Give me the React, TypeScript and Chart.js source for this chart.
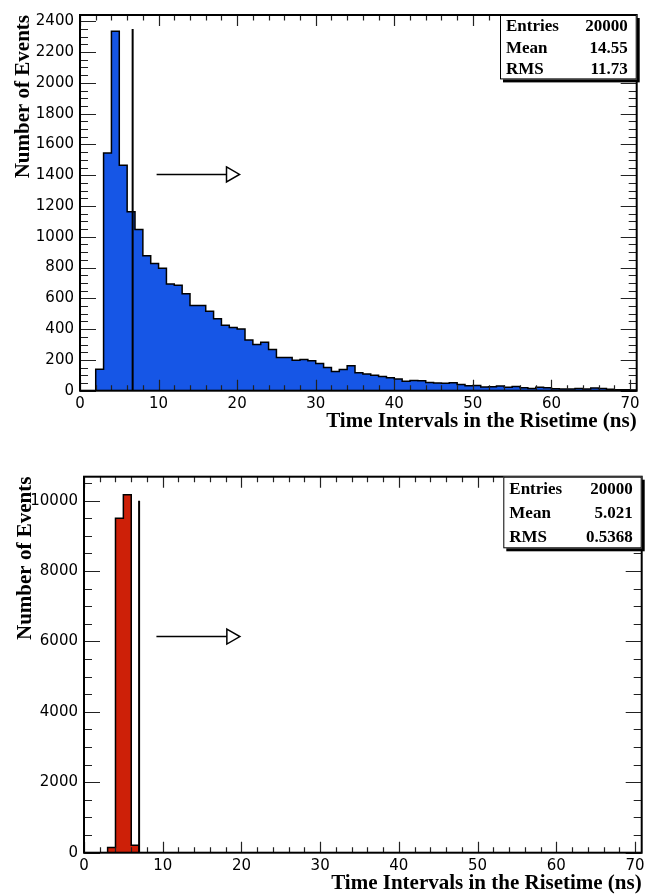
import React, { useEffect, useRef } from 'react';
import { Chart, registerables } from 'chart.js';

Chart.register(...registerables);

// ---------- data ----------
const binWidth = 1; // ns
const topCounts = [
  0, 0, 140, 1545, 2336, 1465, 1162, 1047, 877, 827,
  795, 694, 685, 630, 554, 554, 517, 468, 425, 410,
  401, 330, 300, 315, 268, 216, 216, 198, 203, 194,
  177, 151, 125, 138, 162, 117, 108, 101, 93, 84,
  76, 61, 67, 65, 54, 50, 48, 52, 41, 32,
  34, 24, 26, 30, 22, 28, 19, 15, 22, 19,
  13, 11, 11, 15, 11, 17, 15, 9, 6, 6,
  4,
];
const bottomBinStarts = [3, 4, 5, 6];
const bottomCounts = [150, 9500, 10170, 210];

const xTickLabels = [0, 10, 20, 30, 40, 50, 60, 70];
const topYTickLabels = [0, 200, 400, 600, 800, 1000, 1200, 1400, 1600, 1800, 2000, 2200, 2400];
const bottomYTickLabels = [0, 2000, 4000, 6000, 8000, 10000];

const topStats = [['Entries', '20000'], ['Mean', '14.55'], ['RMS', '11.73']];
const bottomStats = [['Entries', '20000'], ['Mean', '5.021'], ['RMS', '0.5368']];

const topCut = { x: 6.7, y: 2350 };
const bottomCut = { x: 7.0, y: 10000 };
const topArrow = { x0: 9.75, x1: 20.3, y: 1405 };
const bottomArrow = { x0: 9.2, x1: 19.8, y: 6140 };

const xTitle = 'Time Intervals in the Risetime (ns)';
const yTitle = 'Number of Events';

// ---------- helpers ----------
function stepPointsFull(counts: number[]) {
  const pts = counts.map((c, i) => ({ x: i * binWidth, y: c }));
  pts.push({ x: counts.length * binWidth, y: 0 });
  return pts;
}
function stepPointsSparse(starts: number[], counts: number[]) {
  const pts: { x: number; y: number }[] = [{ x: 0, y: 0 }];
  starts.forEach((s, i) => pts.push({ x: s, y: counts[i] }));
  pts.push({ x: starts[starts.length - 1] + binWidth, y: 0 });
  return pts;
}

type Decor = {
  xMajor: number; xMinor: number; yMajor: number; yMinor: number;
  stats: string[][]; boxW: number; boxH: number;
  cut: { x: number; y: number }; arrow: { x0: number; x1: number; y: number };
};

function makeDecor(d: Decor) {
  return {
    id: 'rootDecor',
    afterDatasetsDraw(chart: any) {
      const ctx = chart.ctx as CanvasRenderingContext2D;
      const ca = chart.chartArea;
      const xs = chart.scales.x;
      const ys = chart.scales.y;
      ctx.save();
      // cut line
      ctx.strokeStyle = '#000';
      ctx.lineWidth = 2;
      ctx.beginPath();
      const cx = xs.getPixelForValue(d.cut.x);
      ctx.moveTo(cx, ys.getPixelForValue(0));
      ctx.lineTo(cx, ys.getPixelForValue(d.cut.y));
      ctx.stroke();
      // arrow
      const ax0 = xs.getPixelForValue(d.arrow.x0);
      const ax1 = xs.getPixelForValue(d.arrow.x1);
      const ay = ys.getPixelForValue(d.arrow.y);
      ctx.lineWidth = 1.5;
      ctx.beginPath();
      ctx.moveTo(ax0, ay);
      ctx.lineTo(ax1 - 13, ay);
      ctx.stroke();
      ctx.beginPath();
      ctx.moveTo(ax1 - 13, ay - 7.5);
      ctx.lineTo(ax1, ay);
      ctx.lineTo(ax1 - 13, ay + 7.5);
      ctx.closePath();
      ctx.fillStyle = '#fff';
      ctx.fill();
      ctx.stroke();

      // ticks
      ctx.strokeStyle = '#222';
      ctx.lineWidth = 1.2;
      const xmin = xs.min, xmax = xs.max, ymin = ys.min, ymax = ys.max;
      ctx.beginPath();
      for (let v = 0; v <= xmax + 1e-9; v += d.xMinor) {
        const major = Math.abs(v / d.xMajor - Math.round(v / d.xMajor)) < 1e-6;
        const len = major ? 11 : 5.5;
        const p = Math.round(xs.getPixelForValue(v)) + 0.5;
        if (v < xmin) continue;
        ctx.moveTo(p, ca.bottom); ctx.lineTo(p, ca.bottom - len);
        ctx.moveTo(p, ca.top); ctx.lineTo(p, ca.top + len);
      }
      for (let v = 0; v <= ymax + 1e-9; v += d.yMinor) {
        const major = Math.abs(v / d.yMajor - Math.round(v / d.yMajor)) < 1e-6;
        const len = major ? 16 : 8;
        const p = Math.round(ys.getPixelForValue(v)) + 0.5;
        if (v < ymin) continue;
        ctx.moveTo(ca.left, p); ctx.lineTo(ca.left + len, p);
        ctx.moveTo(ca.right, p); ctx.lineTo(ca.right - len, p);
      }
      ctx.stroke();

      // frame
      ctx.strokeStyle = '#000';
      ctx.lineWidth = 2;
      ctx.strokeRect(ca.left, ca.top, ca.right - ca.left, ca.bottom - ca.top);

      // stats box
      const bx = ca.right - d.boxW;
      const by = ca.top;
      ctx.fillStyle = '#000';
      ctx.fillRect(bx + 3, by + 3, d.boxW, d.boxH);
      ctx.fillStyle = '#fff';
      ctx.fillRect(bx, by, d.boxW, d.boxH);
      ctx.lineWidth = 1;
      ctx.strokeStyle = '#000';
      ctx.strokeRect(bx + 0.5, by + 0.5, d.boxW - 1, d.boxH - 1);
      ctx.fillStyle = '#000';
      ctx.font = 'bold 17px "Liberation Serif", serif';
      ctx.textBaseline = 'middle';
      const rowH = d.boxH / d.stats.length;
      d.stats.forEach((row, i) => {
        const y = by + rowH * (i + 0.5) + 1;
        ctx.textAlign = 'left';
        ctx.fillText(row[0], bx + 6, y);
        ctx.textAlign = 'right';
        ctx.fillText(row[1], bx + d.boxW - 9, y);
      });
      ctx.restore();
    },
  };
}

const tickFont = { family: '"DejaVu Sans", sans-serif', size: 15 };
const titleFont = { family: '"Liberation Serif", serif', size: 21, weight: 'bold' as const };

function buildConfig(opts: {
  points: { x: number; y: number }[]; color: string; yMax: number; yTicks: number[];
  padTop: number; padRight: number; yWidth: number; xHeight: number; yTitlePad: number; xTitlePad: number;
  decor: Decor;
}) {
  return {
    type: 'line' as const,
    data: {
      datasets: [{
        data: opts.points,
        stepped: true,
        fill: 'origin',
        backgroundColor: opts.color,
        borderColor: '#000',
        borderWidth: 1.5,
        pointRadius: 0,
        tension: 0,
      }],
    },
    options: {
      animation: false as const,
      responsive: false,
      maintainAspectRatio: false,
      events: [],
      layout: { padding: { left: 0, right: opts.padRight, top: opts.padTop, bottom: 0 } },
      plugins: { legend: { display: false }, tooltip: { enabled: false }, title: { display: false } },
      scales: {
        x: {
          type: 'linear' as const,
          min: 0,
          max: 70.85,
          grid: { display: false, drawTicks: false },
          border: { display: false },
          ticks: {
            autoSkip: false, maxRotation: 0,
            padding: 4, color: '#000', font: tickFont,
            callback: (v: number) => String(v),
          },
          afterBuildTicks: (s: any) => { s.ticks = xTickLabels.map((v) => ({ value: v })); },
          title: { display: true, text: xTitle, align: 'end' as const, color: '#000', font: titleFont, padding: { top: 0, bottom: opts.xTitlePad } },
          afterFit: (s: any) => { s.height = opts.xHeight; },
        },
        y: {
          type: 'linear' as const,
          min: 0,
          max: opts.yMax,
          grid: { display: false, drawTicks: false },
          border: { display: false },
          ticks: {
            autoSkip: false,
            padding: 6, color: '#000', font: tickFont,
            callback: (v: number) => String(v),
          },
          afterBuildTicks: (s: any) => { s.ticks = opts.yTicks.map((v) => ({ value: v })); },
          title: { display: true, text: yTitle, align: 'end' as const, color: '#000', font: titleFont, padding: { top: opts.yTitlePad, bottom: 0 } },
          afterFit: (s: any) => { s.width = opts.yWidth; },
        },
      },
    },
    plugins: [makeDecor(opts.decor)],
  };
}

function Panel({ cfg }: { cfg: any }) {
  const ref = useRef<HTMLCanvasElement>(null);
  useEffect(() => {
    if (!ref.current) return;
    const chart = new Chart(ref.current, cfg);
    return () => chart.destroy();
  }, [cfg]);
  return <canvas ref={ref} width={656} height={448} style={{ display: 'block', width: 656, height: 448 }} />;
}

const topCfg = buildConfig({
  points: stepPointsFull(topCounts), color: '#1656e6', yMax: 2441, yTicks: topYTickLabels,
  padTop: 13.3, padRight: 19.3, yWidth: 80, xHeight: 57.3, yTitlePad: 11.4, xTitlePad: 14,
  decor: { xMajor: 10, xMinor: 2, yMajor: 200, yMinor: 50, stats: topStats, boxW: 136.7, boxH: 64.4, cut: topCut, arrow: topArrow },
});
const bottomCfg = buildConfig({
  points: stepPointsSparse(bottomBinStarts, bottomCounts), color: '#cd2008', yMax: 10680, yTicks: bottomYTickLabels,
  padTop: 28.7, padRight: 14.3, yWidth: 84, xHeight: 43.3, yTitlePad: 13.4, xTitlePad: 0,
  decor: { xMajor: 10, xMinor: 2, yMajor: 2000, yMinor: 500, stats: bottomStats, boxW: 138.4, boxH: 71.6, cut: bottomCut, arrow: bottomArrow },
});

export default function App() {
  return (
    <div style={{ position: 'absolute', left: 0, top: 0, width: 656, height: 896, background: '#fff' }}>
      <Panel cfg={topCfg} />
      <Panel cfg={bottomCfg} />
    </div>
  );
}
